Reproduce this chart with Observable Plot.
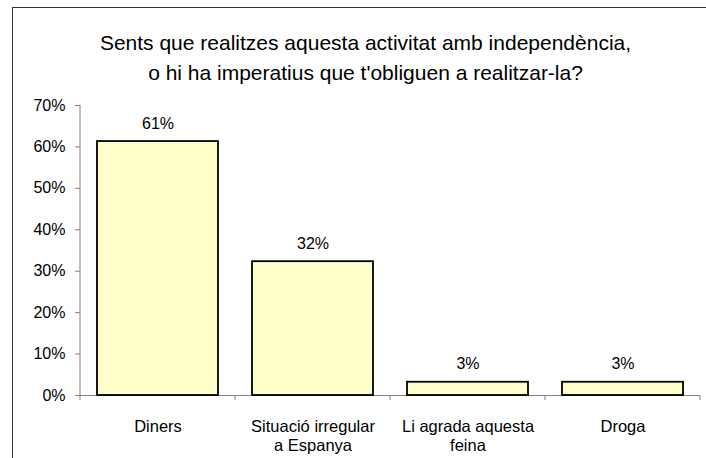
<!DOCTYPE html>
<html>
<head>
<meta charset="utf-8">
<script src="https://cdn.jsdelivr.net/npm/d3@7"></script>
<script src="https://cdn.jsdelivr.net/npm/@observablehq/plot@0.6"></script>
<style>
  html, body { margin: 0; padding: 0; background: #fff; overflow: hidden; }
  #wrap { position: relative; width: 706px; height: 458px; overflow: hidden; }
  #border { position: absolute; left: 12px; top: 7px; width: 760px; height: 520px; border: 1.5px solid #333; box-sizing: border-box; }
  #chart { position: absolute; left: 0; top: 0; }
</style>
</head>
<body>
<div id="wrap"><div id="border"></div><div id="chart"></div></div>
<script>
const titleLines = ["Sents que realitzes aquesta activitat amb independència,", "o hi ha imperatius que t'obliguen a realitzar-la?"];
const categories = ["Diners", "Situació irregular a Espanya", "Li agrada aquesta feina", "Droga"];
const tickLabels = ["Diners", "Situació irregular\na Espanya", "Li agrada aquesta\nfeina", "Droga"];
const values = [61.3, 32.3, 3.2, 3.2];
const yTicks = [0, 10, 20, 30, 40, 50, 60, 70];

const data = categories.map((c, i) => ({cat: c, label: tickLabels[i], value: values[i]}));

function axisDecor(index, scales, values, dims, context) {
  const x = scales.x, y = scales.y;
  const g = d3.create("svg:g");
  const y0 = y(0), yTop = y(70);
  const step = x.step ? x.step() : (dims.width - dims.marginLeft - dims.marginRight) / categories.length;
  const bw = x.bandwidth ? x.bandwidth() : step * 0.78;
  const left = x(categories[0]) - (step - bw) / 2;
  g.append("line").attr("x1", left).attr("x2", left).attr("y1", yTop).attr("y2", y0)
    .attr("stroke", "#808080").attr("stroke-width", 1);
  for (let i = 0; i <= categories.length; i++) {
    const xp = left + i * step;
    g.append("line").attr("x1", xp).attr("x2", xp).attr("y1", y0).attr("y2", y0 + 5)
      .attr("stroke", "#808080").attr("stroke-width", 1);
  }
  return g.node();
}

const chart = Plot.plot({
  width: 706,
  height: 458,
  marginLeft: 80,
  marginRight: 6,
  marginTop: 105,
  marginBottom: 63,
  style: {fontFamily: "'Liberation Sans', Arial, sans-serif", fontSize: "16px", color: "#000", background: "transparent"},
  x: {domain: categories, paddingInner: 0.22, paddingOuter: 0.11, axis: null},
  y: {domain: [0, 70], axis: null},
  marks: [
    Plot.ruleY([0], {stroke: "#808080", strokeWidth: 1}),
    Plot.barY(data, {x: "cat", y: "value", fill: "#FFFFCC", stroke: "#000", strokeWidth: 1.8}),
    axisDecor,
    Plot.axisY({ticks: yTicks, tickFormat: d => d + "%", tickSize: 5, tickPadding: 10, stroke: "#808080", fill: "#000", fontSize: 16, label: null}),
    Plot.text(data, {x: "cat", y: "value", text: d => Math.round(d.value) + "%", dy: -18, fontSize: 16, fill: "#000"}),
    Plot.text(data, {x: "cat", y: () => 0, text: "label", dy: 22, lineAnchor: "top", lineHeight: 1.2, fontSize: 16.5, fill: "#000"}),
    Plot.text([titleLines[0]], {text: d => d, frameAnchor: "top", dx: -25, dy: -70, fontSize: 21, fill: "#000"}),
    Plot.text([titleLines[1]], {text: d => d, frameAnchor: "top", dx: -25, dy: -40, fontSize: 21, fill: "#000"})
  ]
});
document.getElementById("chart").appendChild(chart);
</script>
</body>
</html>
